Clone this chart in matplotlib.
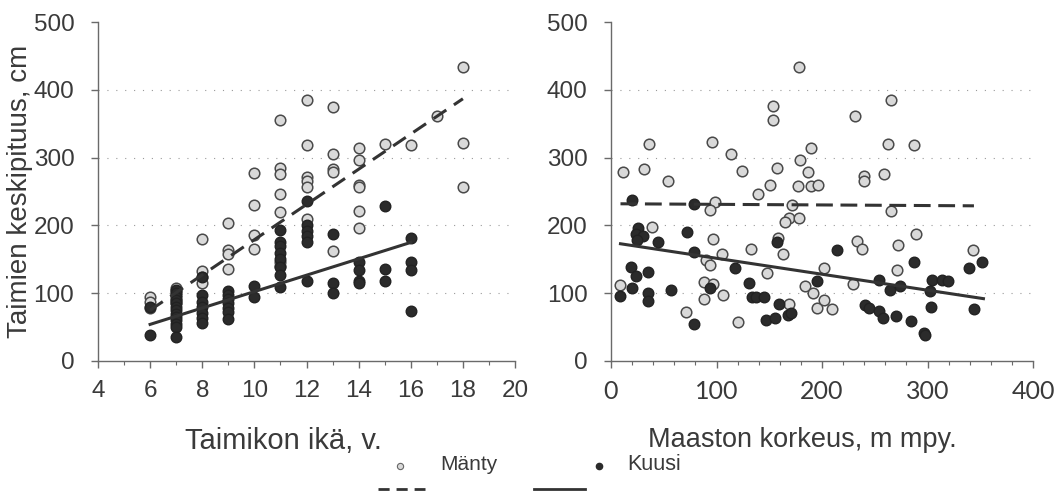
import matplotlib
matplotlib.use('Agg')
import matplotlib.pyplot as plt
from matplotlib.lines import Line2D
import numpy as np

plt.rcParams['font.family'] = ['Liberation Sans', 'DejaVu Sans']

# Taimikon ikä (v.) -> pituudet, mänty
manty_age = {
    6: [95, 87, 78],
    7: [108, 103, 97, 90, 85],
    8: [180, 133, 124, 115],
    9: [203, 164, 158, 136],
    10: [277, 230, 186, 165],
    11: [355, 285, 276, 246, 220, 146, 140],
    12: [385, 319, 272, 265, 257, 209],
    13: [375, 306, 284, 279, 162],
    14: [314, 296, 260, 257, 221, 196],
    15: [320],
    16: [319],
    17: [362],
    18: [434, 322, 257],
}
# kuusi
kuusi_age = {
    6: [80, 38],
    7: [105, 100, 95, 90, 85, 80, 75, 70, 65, 60, 55, 50, 35],
    8: [124, 97, 87, 80, 71, 63, 56],
    9: [104, 98, 92, 85, 78, 72, 62],
    10: [110, 94],
    11: [193, 176, 169, 160, 150, 139, 127, 109],
    12: [236, 200, 192, 185, 176, 118],
    13: [188, 115, 100],
    14: [146, 135, 118, 115],
    15: [229, 136, 118],
    16: [182, 146, 134, 74],
}

# Maaston korkeus (m mpy.) ja pituus
manty_alt = [11, 31, 36, 54, 96, 99, 94, 114, 124, 139, 151, 157, 154, 154, 178, 179, 190, 187,
             177, 190, 196, 172, 169, 178, 9, 39, 71, 88, 97, 88, 106, 90, 94, 97, 105, 120, 133,
             148, 158, 163, 165, 169, 184, 191, 195, 265, 231, 263, 287, 240, 240, 259, 265,
             233, 238, 272, 289, 202, 202, 209, 229, 271, 343]
manty_h = [279, 283, 320, 265, 323, 235, 223, 306, 281, 247, 259, 285, 376, 356, 434, 296, 315, 279,
           258, 258, 260, 230, 211, 211, 112, 198, 72, 117, 113, 91, 98, 149, 141, 180, 158, 57, 166,
           130, 181, 158, 205, 84, 110, 101, 78, 385, 362, 320, 319, 273, 266, 276, 221,
           177, 166, 171, 187, 137, 90, 76, 113, 134, 164]
kuusi_alt = [20, 79, 26, 24, 30, 25, 45, 72, 79, 19, 24, 35, 20, 9, 35, 35, 57, 79, 94, 118, 131,
             134, 137, 145, 157, 147, 155, 159, 168, 171, 195, 214, 254, 264, 274, 287, 302, 304,
             314, 319, 339, 352, 241, 245, 254, 258, 270, 284, 297, 298, 303, 344]
kuusi_h = [237, 231, 196, 188, 185, 178, 176, 190, 161, 138, 125, 132, 107, 96, 100, 88, 105, 55,
           107, 137, 115, 94, 95, 94, 175, 61, 63, 84, 68, 71, 118, 164, 120, 105, 110, 146, 103,
           119, 119, 118, 137, 146, 83, 78, 74, 63, 66, 59, 42, 38, 80, 77]

# trendiviivat (alku- ja loppupiste)
trend_age_manty = ([6, 18], [75, 387])
trend_age_kuusi = ([6, 16], [54, 175])
trend_alt_manty = ([9, 344], [232, 229])
trend_alt_kuusi = ([9, 353], [173, 92])

light = '#d9d9d9'
dark = '#2b2b2b'
edge = '#4a4a4a'
txt = '#3a3a3a'
axcol = '#6a6a6a'

fig = plt.figure(figsize=(10.58, 4.91), dpi=100)
ax1 = fig.add_axes([0.0926, 0.2648, 0.3942, 0.690])
ax2 = fig.add_axes([0.5775, 0.2648, 0.3989, 0.690])


def style(ax):
    for s in ['top', 'right']:
        ax.spines[s].set_visible(False)
    for s in ['left', 'bottom']:
        ax.spines[s].set_color(axcol)
        ax.spines[s].set_linewidth(1.0)
    ax.set_ylim(0, 500)
    ax.set_yticks([0, 100, 200, 300, 400, 500])
    for y in [100, 200, 300, 400]:
        ax.axhline(y, color='#9a9a9a', lw=0.8, ls=(0, (1, 7)), zorder=0)
    ax.tick_params(axis='both', colors=axcol, labelcolor=txt, labelsize=17.5, length=5, width=1)
    ax.tick_params(axis='x', which='minor', length=3, width=0.8, colors=axcol)
    ax.tick_params(axis='x', pad=9)
    ax.tick_params(axis='y', pad=12)


style(ax1)
style(ax2)

# vasen: taimikon ikä
xm = [a for a, v in manty_age.items() for _ in v]
ym = [h for v in manty_age.values() for h in v]
xk = [a for a, v in kuusi_age.items() for _ in v]
yk = [h for v in kuusi_age.values() for h in v]
ax1.scatter(xm, ym, s=58, c=light, edgecolors=edge, linewidths=1.1, zorder=3)
ax1.scatter(xk, yk, s=58, c=dark, edgecolors='#222222', linewidths=1.0, zorder=3)
ax1.plot(*trend_age_manty, color='#333333', lw=2.2, dashes=(5, 3), zorder=4)
ax1.plot(*trend_age_kuusi, color='#333333', lw=2.2, zorder=4)
ax1.set_xlim(4, 20)
ax1.set_xticks(range(4, 21, 2))
ax1.set_xticks(range(4, 21), minor=True)
ax1.set_xlabel('Taimikon ikä, v.', fontsize=21, color=txt)
ax1.xaxis.set_label_coords(0.445, -0.195)
ax1.set_ylabel('Taimien keskipituus, cm', fontsize=20, color=txt)
ax1.yaxis.set_label_coords(-0.155, 0.5)

# oikea: maaston korkeus
ax2.scatter(manty_alt, manty_h, s=58, c=light, edgecolors=edge, linewidths=1.1, zorder=3)
ax2.scatter(kuusi_alt, kuusi_h, s=58, c=dark, edgecolors='#222222', linewidths=1.0, zorder=3)
ax2.plot(*trend_alt_manty, color='#333333', lw=2.2, dashes=(5.5, 2.5), zorder=4)
ax2.plot(*trend_alt_kuusi, color='#333333', lw=2.2, zorder=4)
ax2.set_xlim(0, 400)
ax2.set_xticks(range(0, 401, 100))
ax2.set_xticks(range(0, 401, 20), minor=True)
for lab in ax2.get_xticklabels():
    lab.set_family(['Lato', 'DejaVu Sans'])
    lab.set_fontsize(18)
ax2.set_xlabel('Maaston korkeus, m mpy.', fontsize=19.5, color=txt)
ax2.xaxis.set_label_coords(0.453, -0.195)

# selite
fig.add_artist(Line2D([0.378], [0.051], marker='o', ms=4.5, mfc=light, mec='#666666', mew=0.8,
                      transform=fig.transFigure))
fig.text(0.416, 0.053, 'Mänty', fontsize=15, color=txt, va='center')
fig.add_artist(Line2D([0.566], [0.051], marker='o', ms=4.5, mfc=dark, mec=dark,
                      transform=fig.transFigure))
fig.text(0.593, 0.053, 'Kuusi', fontsize=15.5, color=txt, va='center')
fig.add_artist(Line2D([0.357, 0.402], [0.004, 0.004], color='#333333', lw=2, dashes=(4, 2.5),
                      transform=fig.transFigure))
fig.add_artist(Line2D([0.505, 0.553], [0.004, 0.004], color='#333333', lw=2,
                      transform=fig.transFigure))

fig.savefig('out.png', dpi=100)
